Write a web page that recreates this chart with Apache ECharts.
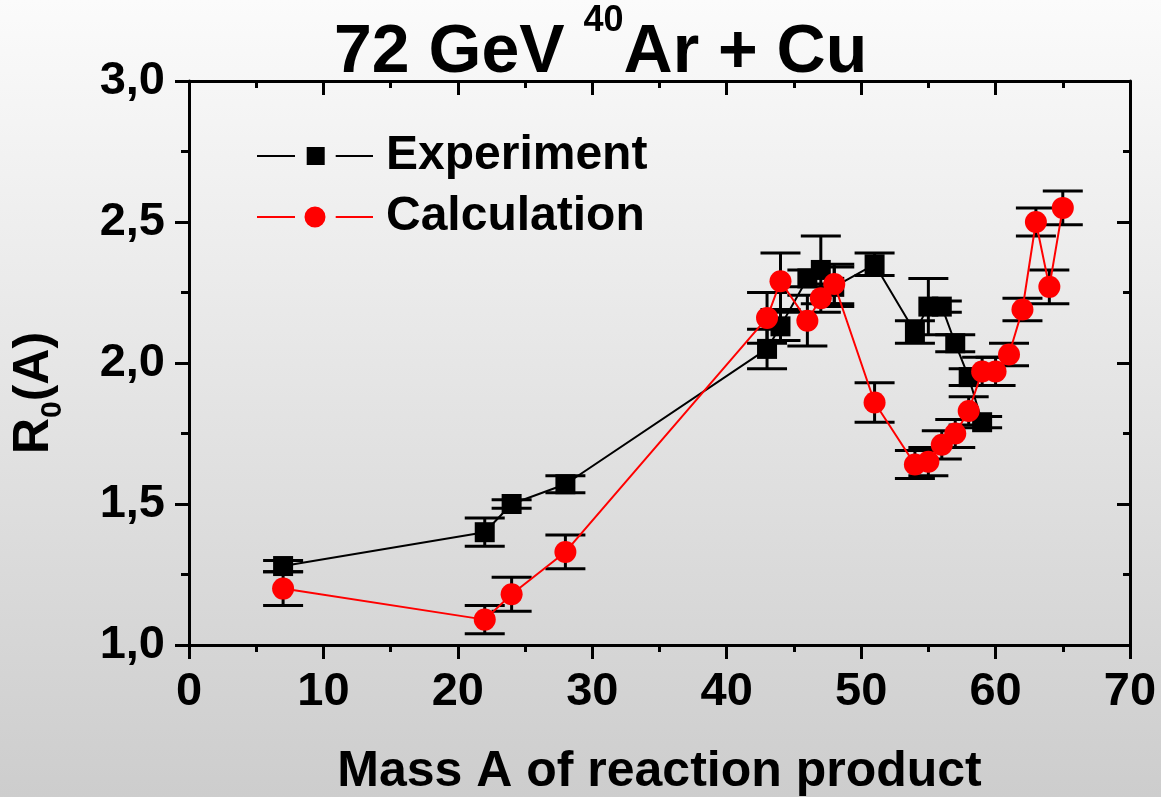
<!DOCTYPE html>
<html>
<head>
<meta charset="utf-8">
<title>72 GeV 40Ar + Cu</title>
<script src="https://cdn.jsdelivr.net/npm/echarts@6/dist/echarts.min.js"></script>
<style>
  html, body { margin: 0; padding: 0; }
  #chart { width: 1161px; height: 797px; }
</style>
</head>
<body>
<div id="chart"></div>
<script>
// Mass numbers of reaction products and measured / calculated R0(A)
const massExp = [7, 22, 24, 28, 43, 44, 46, 47, 48, 51, 54, 55, 56, 57, 58, 59];
const rExp    = [1.28, 1.40, 1.50, 1.57, 2.05, 2.13, 2.30, 2.33, 2.27, 2.35, 2.11, 2.20, 2.20, 2.07, 1.95, 1.79];
const errExp  = [0.02, 0.05, 0.015, 0.03, 0.07, 0.05, 0.03, 0.12, 0.07, 0.04, 0.04, 0.10, 0.02, 0.03, 0.03, 0.02];

const massCalc = [7, 22, 24, 28, 43, 44, 46, 47, 48, 51, 54, 55, 56, 57, 58, 59, 60, 61, 62, 63, 64, 65];
const rCalc    = [1.20, 1.09, 1.18, 1.33, 2.16, 2.29, 2.15, 2.23, 2.28, 1.86, 1.64, 1.65, 1.71, 1.75, 1.83, 1.97, 1.97, 2.03, 2.19, 2.50, 2.27, 2.55];
const errCalc  = [0.06, 0.05, 0.06, 0.06, 0.09, 0.10, 0.09, 0.05, 0.07, 0.07, 0.05, 0.05, 0.05, 0.05, 0.05, 0.05, 0.05, 0.04, 0.04, 0.05, 0.06, 0.06];

const xTicks = { min: 0, max: 70, interval: 10 };
const yTicks = { min: 1.0, max: 3.0, interval: 0.5 };

const FONT = "'Liberation Sans', Arial, Helvetica, sans-serif";

const pairs = (xs, ys) => xs.map((x, i) => [x, ys[i]]);
const bars = (xs, ys, es) => xs.map((x, i) => [x, ys[i] - es[i], ys[i] + es[i]]);

// Vertical error bar with flat caps
function renderErrorBar(params, api) {
  const x = api.value(0);
  const lo = api.coord([x, api.value(1)]);
  const hi = api.coord([x, api.value(2)]);
  const half = 20;
  const style = { stroke: '#000', lineWidth: 3 };
  return {
    type: 'group',
    children: [
      { type: 'line', shape: { x1: lo[0], y1: lo[1], x2: hi[0], y2: hi[1] }, style },
      { type: 'line', shape: { x1: lo[0] - half, y1: lo[1], x2: lo[0] + half, y2: lo[1] }, style },
      { type: 'line', shape: { x1: hi[0] - half, y1: hi[1], x2: hi[0] + half, y2: hi[1] }, style }
    ]
  };
}

const chart = echarts.init(document.getElementById('chart'), null, { renderer: 'canvas' });

const axisLine = { show: true, onZero: false, lineStyle: { color: '#000', width: 3 } };

chart.setOption({
  animation: false,
  backgroundColor: {
    type: 'linear', x: 0, y: 0, x2: 0, y2: 1,
    colorStops: [{ offset: 0, color: '#fbfbfb' }, { offset: 1, color: '#cdcdcd' }]
  },
  title: {
    left: 329,
    top: -2,
    text: '{a|72 GeV }{s|40}{a|Ar + Cu}',
    textStyle: {
      rich: {
        a: { fontFamily: FONT, fontWeight: 'bold', fontSize: 68, color: '#000', lineHeight: 84, verticalAlign: 'bottom' },
        s: { fontFamily: FONT, fontWeight: 'bold', fontSize: 36, color: '#000', lineHeight: 84, verticalAlign: 'top' }
      }
    }
  },
  legend: {
    orient: 'vertical',
    left: 252,
    top: 126,
    itemWidth: 116,
    itemHeight: 21,
    itemGap: 11,
    textStyle: { fontFamily: FONT, fontWeight: 'bold', fontSize: 48, color: '#000', lineHeight: 50, padding: [0, 0, 0, 8] },
    data: [
      { name: 'Experiment', icon: 'path://M0,9.5h38v2h-38z M49.7,1.5h18v18h-18z M78.7,9.5h37.3v2h-37.3z', itemStyle: { color: '#000' } },
      { name: 'Calculation', icon: 'path://M0,9.5h38v2h-38z M47.5,10.5a10.5,10.5 0 1,0 21,0a10.5,10.5 0 1,0 -21,0z M78.7,9.5h37.3v2h-37.3z', itemStyle: { color: '#ff0000' } }
    ]
  },
  grid: { left: 189, right: 31, top: 81, bottom: 152, containLabel: false, outerBoundsMode: 'none' },
  xAxis: [
    {
      type: 'value', position: 'bottom', ...xTicks,
      name: 'Mass A of reaction product', nameLocation: 'middle', nameGap: 102,
      nameTextStyle: { fontFamily: FONT, fontWeight: 'bold', fontSize: 50, color: '#000' },
      axisLine,
      axisTick: { show: true, inside: false, length: 14, lineStyle: { color: '#000', width: 3 } },
      minorTick: { show: true, splitNumber: 2, length: 7, lineStyle: { color: '#000', width: 3 } },
      splitLine: { show: false },
      axisLabel: { fontFamily: FONT, fontWeight: 'bold', fontSize: 47, color: '#000', margin: 24 }
    },
    {
      type: 'value', position: 'top', ...xTicks,
      axisLine,
      axisTick: { show: true, inside: true, length: 14, lineStyle: { color: '#000', width: 3 } },
      minorTick: { show: true, splitNumber: 2, length: 7, lineStyle: { color: '#000', width: 3 } },
      splitLine: { show: false },
      axisLabel: { show: false }
    }
  ],
  yAxis: [
    {
      type: 'value', position: 'left', ...yTicks,
      axisLine,
      axisTick: { show: true, inside: false, length: 14, lineStyle: { color: '#000', width: 3 } },
      minorTick: { show: true, splitNumber: 2, length: 8, lineStyle: { color: '#000', width: 3 } },
      splitLine: { show: false },
      axisLabel: {
        fontFamily: FONT, fontWeight: 'bold', fontSize: 47, color: '#000', margin: 24,
        formatter: v => v.toFixed(1).replace('.', ',')
      }
    },
    {
      type: 'value', position: 'right', ...yTicks,
      axisLine,
      axisTick: { show: true, inside: true, length: 13, lineStyle: { color: '#000', width: 3 } },
      minorTick: { show: true, splitNumber: 2, length: 7, lineStyle: { color: '#000', width: 3 } },
      splitLine: { show: false },
      axisLabel: { show: false }
    }
  ],
  graphic: [
    {
      type: 'text',
      x: 40, y: 393,
      rotation: Math.PI / 2,
      style: {
        text: '{a|R}{b|0}{a|(A)}',
        align: 'center',
        verticalAlign: 'middle',
        rich: {
          a: { fontFamily: FONT, fontWeight: 'bold', fontSize: 50, fill: '#000', lineHeight: 56, verticalAlign: 'bottom', padding: [0, 0, 9, 0] },
          b: { fontFamily: FONT, fontWeight: 'bold', fontSize: 30, fill: '#000', lineHeight: 34, verticalAlign: 'bottom' }
        }
      }
    }
  ],
  series: [
    {
      name: 'Experiment errors', type: 'custom', renderItem: renderErrorBar,
      data: bars(massExp, rExp, errExp), encode: { x: 0, y: [1, 2] }, z: 2, silent: true
    },
    {
      name: 'Calculation errors', type: 'custom', renderItem: renderErrorBar,
      data: bars(massCalc, rCalc, errCalc), encode: { x: 0, y: [1, 2] }, z: 2, silent: true
    },
    {
      name: 'Experiment', type: 'line', data: pairs(massExp, rExp),
      symbol: 'rect', symbolSize: 20, showSymbol: true,
      lineStyle: { color: '#000', width: 2 }, itemStyle: { color: '#000' }, z: 3
    },
    {
      name: 'Calculation', type: 'line', data: pairs(massCalc, rCalc),
      symbol: 'circle', symbolSize: 22, showSymbol: true,
      lineStyle: { color: '#ff0000', width: 2 }, itemStyle: { color: '#ff0000' }, z: 4
    }
  ]
});
</script>
</body>
</html>
